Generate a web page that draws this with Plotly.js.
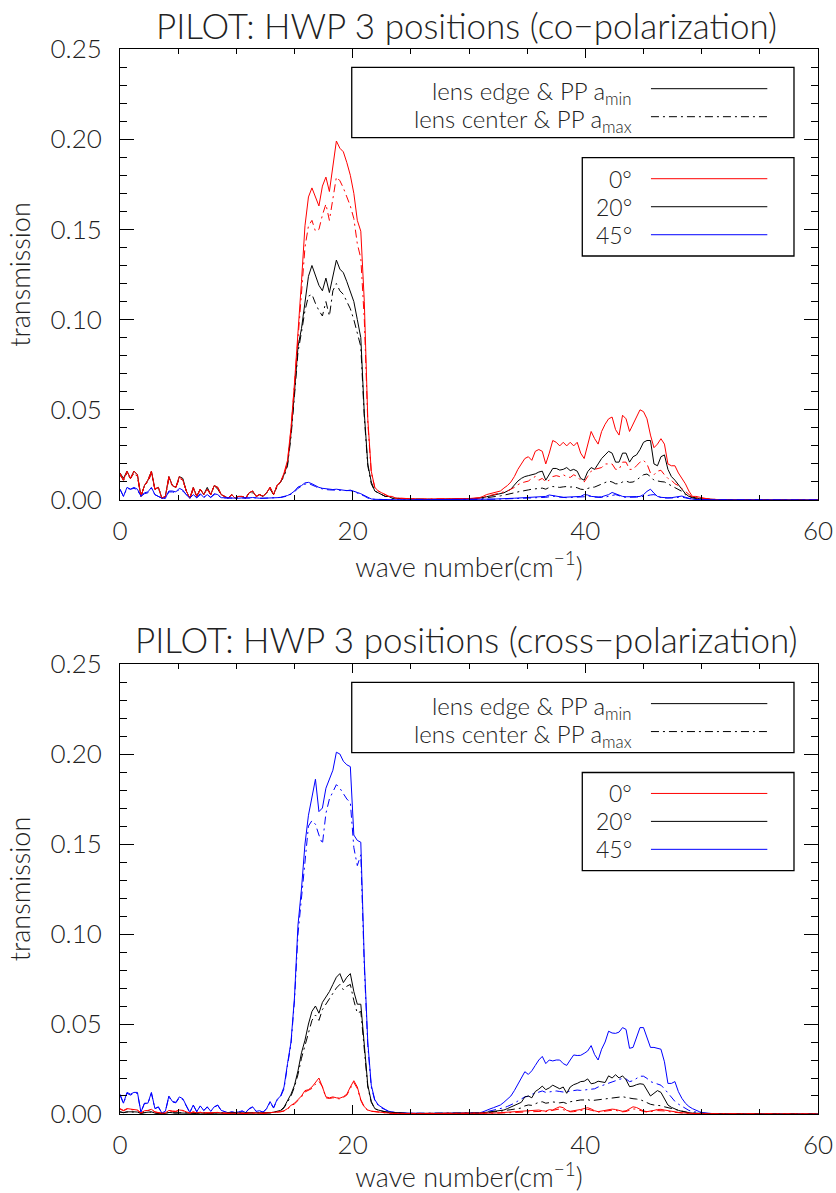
<!DOCTYPE html>
<html><head><meta charset="utf-8">
<script src="https://cdn.plot.ly/plotly-3.0.1.min.js"></script>
<style>html,body{margin:0;padding:0;background:#fff}#chart{width:836px;height:1193px}</style>
</head><body><div id="chart"></div>
<script>
// wave number grid (cm^-1)
const wavenumber = [
0,0.3,0.6,0.9,1.2,1.5,1.8,2.1,2.4,2.7,
3,3.3,3.6,3.9,4.2,4.5,4.8,5.1,5.4,5.7,
6,6.3,6.6,6.9,7.2,7.5,7.8,8.1,8.4,8.7,
9,9.3,9.6,9.9,10.2,10.5,10.8,11.1,11.4,11.7,
12,12.3,12.6,12.9,13.2,13.5,13.8,14.1,
14.4,14.7,15,15.3,15.6,15.9,16.2,16.5,16.8,17.1,
17.4,17.7,18,18.3,18.6,18.9,19.2,19.5,19.8,20.1,
20.4,20.7,21,21.3,21.6,21.9,22.2,22.5,22.8,23.1,
23.4,23.7,24,
24.3,24.6,24.9,25.2,25.5,25.8,26.1,26.4,26.7,27,
27.3,27.6,27.9,28.2,28.5,28.8,29.1,29.4,29.7,
30,30.3,30.6,30.9,31.2,31.5,31.8,32.1,32.4,32.7,
33,33.3,33.6,33.9,34.2,34.5,34.8,35.1,35.4,35.7,
36,36.3,36.6,36.9,37.2,37.5,37.8,38.1,38.4,38.7,
39,39.3,39.6,39.9,40.2,40.5,40.8,41.1,41.4,41.7,
42,42.3,42.6,42.9,43.2,43.5,43.8,44.1,44.4,44.7,
45,45.3,45.6,45.9,46.2,46.5,46.8,47.1,47.4,47.7,
48,48.3,48.6,48.9,49.2,49.5,49.8,50.1,50.4,50.7,
51,51.3,51.6,51.9,
60];

// ---------- co-polarization (top) ----------
const coRed0Edge = [
0.015,0.011,0.016,0.012,0.016,0.014,0.002,0.008,0.011,0.016,
0.006,0.007,0.001,0.002,0.013,0.008,0.007,0.013,0.011,0.005,
0.001,0.007,0.002,0.006,0.003,0.006,0.003,0.008,0.007,0.003,
0.002,0.001,0.003,0.001,0.002,0.002,0.001,0.004,0.005,0.002,
0.003,0.002,0.004,0.007,0.003,0.008,0.010,0.015,
0.022,0.040,0.065,0.092,0.121,0.152,0.168,0.173,0.168,0.163,
0.174,0.179,0.171,0.186,0.199,0.195,0.193,0.187,0.180,0.170,
0.155,0.149,0.110,0.045,0.016,0.007,0.005,0.004,0.003,0.002,
0.002,0.001,0.001,
0.001,0.001,0.0008,0.0007,0.0006,0.0005,0.0005,0.0005,0.0005,0.0005,
0.0005,0.0005,0.0005,0.0005,0.0005,0.0006,0.0006,0.0007,0.0008,
0.0008,0.001,0.0012,0.0013,0.002,0.003,0.0035,0.004,0.0045,0.005,
0.0066,0.008,0.010,0.013,0.017,0.020,0.023,0.024,0.022,0.027,
0.028,0.027,0.020,0.026,0.033,0.032,0.030,0.032,0.030,0.032,
0.030,0.032,0.026,0.023,0.031,0.038,0.034,0.031,0.038,0.042,
0.045,0.046,0.039,0.036,0.047,0.045,0.038,0.042,0.046,0.050,
0.049,0.045,0.036,0.029,0.031,0.034,0.031,0.020,0.019,0.019,
0.015,0.012,0.009,0.005,0.002,0.002,0.0015,0.001,0.0008,0.0005,
0.0004,0.0003,0.0002,0.0001,
0];
const coRed0Center = [
0.014,0.011,0.015,0.012,0.015,0.013,0.002,0.008,0.010,0.015,
0.006,0.007,0.001,0.002,0.012,0.008,0.007,0.012,0.011,0.005,
0.001,0.006,0.002,0.006,0.003,0.006,0.003,0.008,0.007,0.003,
0.002,0.001,0.003,0.001,0.002,0.002,0.001,0.004,0.005,0.002,
0.003,0.002,0.004,0.007,0.003,0.008,0.010,0.014,
0.021,0.039,0.064,0.090,0.118,0.140,0.152,0.155,0.149,0.150,
0.158,0.164,0.155,0.168,0.179,0.177,0.173,0.168,0.163,0.156,
0.142,0.134,0.100,0.043,0.015,0.007,0.005,0.004,0.003,0.002,
0.002,0.001,0.001,
0.001,0.0009,0.0008,0.0007,0.0006,0.0005,0.0005,0.0005,0.0004,0.0004,
0.0004,0.0004,0.0004,0.0004,0.0004,0.0005,0.0005,0.0005,0.0006,
0.0006,0.0008,0.001,0.001,0.0015,0.002,0.0025,0.003,0.0035,0.004,
0.0045,0.005,0.006,0.007,0.0085,0.0095,0.010,0.0105,0.012,0.013,
0.011,0.012,0.010,0.011,0.013,0.0135,0.013,0.014,0.013,0.0125,
0.014,0.013,0.011,0.010,0.013,0.016,0.017,0.0175,0.018,0.020,
0.020,0.020,0.017,0.017,0.021,0.021,0.017,0.017,0.019,0.021,
0.022,0.020,0.015,0.014,0.016,0.0165,0.014,0.012,0.011,0.009,
0.008,0.0065,0.005,0.003,0.0015,0.0012,0.001,0.0008,0.0006,0.0004,
0.0003,0.0002,0.0001,0.0001,
0];
const coBlack20Edge = [
0.015,0.012,0.016,0.012,0.016,0.014,0.002,0.008,0.011,0.016,
0.006,0.007,0.001,0.002,0.013,0.008,0.007,0.013,0.012,0.005,
0.001,0.007,0.002,0.006,0.003,0.007,0.003,0.008,0.007,0.003,
0.002,0.001,0.003,0.001,0.002,0.002,0.001,0.004,0.005,0.002,
0.003,0.002,0.004,0.007,0.003,0.008,0.010,0.014,
0.020,0.037,0.060,0.085,0.095,0.110,0.124,0.130,0.124,0.119,
0.116,0.123,0.115,0.125,0.133,0.128,0.126,0.121,0.116,0.110,
0.100,0.090,0.048,0.020,0.010,0.005,0.004,0.003,0.002,0.002,
0.001,0.001,0.0008,
0.0007,0.0006,0.0005,0.0005,0.0004,0.0004,0.0004,0.0004,0.0004,0.0004,
0.0004,0.0004,0.0004,0.0004,0.0004,0.0004,0.0004,0.0005,0.0005,
0.0005,0.0007,0.0009,0.001,0.0014,0.0018,0.0023,0.0028,0.0032,0.0037,
0.004,0.005,0.006,0.0083,0.0105,0.012,0.013,0.0135,0.014,0.0145,
0.0155,0.016,0.011,0.014,0.0175,0.0175,0.0166,0.017,0.018,0.0163,
0.017,0.016,0.012,0.011,0.0157,0.018,0.017,0.020,0.023,0.025,
0.027,0.026,0.021,0.021,0.026,0.026,0.021,0.024,0.025,0.028,
0.032,0.033,0.033,0.020,0.019,0.024,0.025,0.017,0.013,0.011,
0.0083,0.006,0.0035,0.002,0.0015,0.001,0.0008,0.0006,0.0005,0.0004,
0.0003,0.0002,0.0001,0.0001,
0];
const coBlack20Center = [
0.014,0.011,0.015,0.012,0.015,0.013,0.002,0.008,0.010,0.015,
0.006,0.007,0.001,0.002,0.012,0.008,0.007,0.012,0.011,0.005,
0.001,0.006,0.002,0.006,0.003,0.006,0.003,0.008,0.006,0.003,
0.002,0.001,0.003,0.001,0.002,0.002,0.001,0.004,0.004,0.002,
0.003,0.002,0.004,0.006,0.003,0.007,0.010,0.013,
0.019,0.035,0.058,0.082,0.093,0.105,0.113,0.114,0.109,0.105,
0.102,0.110,0.102,0.116,0.120,0.116,0.114,0.110,0.106,0.100,
0.092,0.085,0.046,0.019,0.009,0.005,0.004,0.003,0.002,0.002,
0.001,0.001,0.0008,
0.0007,0.0006,0.0005,0.0005,0.0004,0.0004,0.0004,0.0004,0.0003,0.0003,
0.0003,0.0003,0.0003,0.0003,0.0003,0.0003,0.0003,0.0004,0.0004,
0.0004,0.0005,0.0006,0.0008,0.001,0.0012,0.0015,0.0018,0.002,0.0023,
0.0027,0.003,0.0035,0.004,0.0045,0.005,0.0055,0.0056,0.006,0.0062,
0.0065,0.0066,0.006,0.007,0.0075,0.0072,0.007,0.0073,0.0075,0.0072,
0.0073,0.0068,0.006,0.0058,0.0065,0.007,0.0072,0.008,0.009,0.010,
0.0105,0.010,0.009,0.009,0.010,0.0105,0.0098,0.010,0.011,0.0126,
0.014,0.0144,0.013,0.011,0.0105,0.0102,0.010,0.009,0.008,0.007,
0.006,0.0048,0.003,0.002,0.0012,0.0008,0.0006,0.0005,0.0004,0.0003,
0.0002,0.0002,0.0001,0.0001,
0];
const coBlue45Edge = [
0.006,0.002,0.007,0.006,0.007,0.006,0.002,0.004,0.0045,0.007,
0.003,0.002,0.001,0.001,0.005,0.005,0.0045,0.0065,0.0055,0.003,
0.001,0.003,0.0013,0.0035,0.0015,0.003,0.0015,0.0035,0.003,0.0013,
0.0012,0.001,0.0012,0.001,0.001,0.0012,0.001,0.0012,0.0014,0.001,
0.001,0.001,0.001,0.0012,0.0012,0.0013,0.0015,0.002,
0.0025,0.0035,0.005,0.0072,0.008,0.0095,0.0098,0.009,0.008,0.007,
0.0065,0.0062,0.006,0.0058,0.006,0.0056,0.0055,0.0052,0.0055,0.005,
0.0042,0.0035,0.0025,0.0012,0.0006,0.0004,0.0003,0.0002,0.0002,0.0001,
0.0001,0.0001,0.0001,
0.0001,0.0001,0.0001,0.0001,0.0001,0.0001,0.0001,0.0001,0.0001,0.0001,
0.0001,0.0001,0.0001,0.0001,0.0001,0.0001,0.0001,0.0001,0.0002,
0.0002,0.0002,0.0003,0.0003,0.0004,0.0004,0.0005,0.0005,0.0006,0.0006,
0.0007,0.0008,0.0009,0.001,0.0011,0.0012,0.0013,0.0014,0.0013,0.0015,
0.0016,0.0017,0.002,0.0028,0.0025,0.0018,0.0016,0.0015,0.0016,0.0017,
0.0018,0.0017,0.002,0.003,0.0028,0.002,0.0017,0.0017,0.0018,0.0022,
0.003,0.0042,0.0035,0.0025,0.002,0.0018,0.0017,0.0018,0.0019,0.002,
0.003,0.0048,0.006,0.0038,0.002,0.0015,0.0012,0.0012,0.0013,0.0015,
0.0018,0.0022,0.0015,0.0008,0.0005,0.0003,0.0002,0.0002,0.0001,0.0001,
0.0001,0.0001,0.0001,0.0001,
0];
const coBlue45Center = [
0.006,0.002,0.0065,0.006,0.0065,0.0055,0.002,0.0035,0.004,0.0065,
0.003,0.002,0.001,0.001,0.0045,0.0045,0.004,0.006,0.005,0.003,
0.001,0.003,0.0012,0.003,0.0014,0.0028,0.0014,0.003,0.0028,0.0012,
0.0011,0.001,0.0011,0.001,0.001,0.0011,0.001,0.0011,0.0013,0.001,
0.001,0.001,0.001,0.0011,0.0011,0.0012,0.0014,0.0018,
0.0022,0.0032,0.0045,0.0065,0.0075,0.0088,0.0092,0.0085,0.0075,0.0066,
0.006,0.0058,0.0056,0.0055,0.0057,0.0053,0.0052,0.005,0.0052,0.0047,
0.004,0.0032,0.0022,0.0011,0.0005,0.0004,0.0003,0.0002,0.0002,0.0001,
0.0001,0.0001,0.0001,
0.0001,0.0001,0.0001,0.0001,0.0001,0.0001,0.0001,0.0001,0.0001,0.0001,
0.0001,0.0001,0.0001,0.0001,0.0001,0.0001,0.0001,0.0001,0.0001,
0.0001,0.0002,0.0002,0.0002,0.0003,0.0003,0.0004,0.0004,0.0005,0.0005,
0.0006,0.0006,0.0007,0.0008,0.0009,0.001,0.001,0.0011,0.0011,0.0012,
0.0013,0.0014,0.0015,0.0018,0.002,0.0022,0.0016,0.0013,0.0013,0.0014,
0.0014,0.0014,0.0015,0.0018,0.0021,0.0022,0.0016,0.0014,0.0014,0.0016,
0.002,0.0026,0.003,0.0024,0.0017,0.0015,0.0014,0.0015,0.0016,0.0017,
0.0019,0.0024,0.0028,0.003,0.0022,0.0014,0.0011,0.001,0.001,0.0012,
0.0015,0.0016,0.0012,0.0007,0.0004,0.0003,0.0002,0.0002,0.0001,0.0001,
0.0001,0.0001,0.0001,0.0001,
0];

// ---------- cross-polarization (bottom) ----------
const crossRed0Edge = [
0.003,0.002,0.003,0.0028,0.0025,0.0022,0.0006,0.0018,0.002,0.0026,
0.0012,0.0008,0.0004,0.0006,0.002,0.0016,0.0015,0.0022,0.002,0.0012,
0.0005,0.0012,0.0006,0.001,0.0005,0.0008,0.0005,0.0008,0.0009,0.0005,
0.0004,0.0003,0.0004,0.0003,0.0004,0.0005,0.0003,0.0006,0.0007,0.0004,
0.0005,0.0004,0.0006,0.0008,0.0007,0.001,0.0013,0.0018,
0.003,0.0048,0.006,0.008,0.010,0.013,0.0135,0.015,0.0175,0.020,
0.015,0.0095,0.009,0.0095,0.009,0.0088,0.0096,0.011,0.015,0.0185,
0.015,0.008,0.004,0.0022,0.0016,0.0013,0.001,0.0008,0.0006,0.0005,
0.0004,0.0003,0.0003,
0.0003,0.0002,0.0002,0.0002,0.0002,0.0002,0.0002,0.0001,0.0001,0.0001,
0.0001,0.0001,0.0001,0.0001,0.0001,0.0001,0.0001,0.0001,0.0001,
0.0001,0.0001,0.0002,0.0002,0.0003,0.0003,0.0004,0.0005,0.0006,0.0007,
0.0008,0.001,0.0011,0.0012,0.0013,0.0015,0.0016,0.0015,0.0017,0.002,
0.0022,0.0018,0.0016,0.0024,0.0022,0.0032,0.004,0.0035,0.002,0.0015,
0.0017,0.0022,0.0025,0.003,0.0035,0.0028,0.0018,0.0013,0.0016,0.002,
0.0024,0.0027,0.0025,0.002,0.0015,0.0018,0.0028,0.004,0.0036,0.0026,
0.0017,0.0013,0.0015,0.002,0.0025,0.0026,0.0022,0.0018,0.0015,0.0012,
0.0009,0.0007,0.0005,0.0004,0.0003,0.0002,0.0002,0.0001,0.0001,0.0001,
0.0001,0.0001,0.0001,0.0001,
0];
const crossRed0Center = [
0.0027,0.0018,0.0027,0.0025,0.0023,0.002,0.0005,0.0016,0.0018,0.0024,
0.0011,0.0007,0.0004,0.0005,0.0018,0.0015,0.0014,0.002,0.0018,0.0011,
0.0005,0.0011,0.0005,0.0009,0.0005,0.0007,0.0005,0.0007,0.0008,0.0005,
0.0004,0.0003,0.0004,0.0003,0.0004,0.0005,0.0003,0.0005,0.0006,0.0004,
0.0005,0.0004,0.0005,0.0007,0.0006,0.0009,0.0012,0.0016,
0.0027,0.0044,0.0056,0.0075,0.0095,0.0122,0.013,0.0142,0.0165,0.0182,
0.0152,0.009,0.0086,0.009,0.0086,0.0084,0.0092,0.0105,0.0142,0.0175,
0.0142,0.0075,0.0037,0.002,0.0015,0.0012,0.0009,0.0007,0.0005,0.0004,
0.0003,0.0003,0.0002,
0.0002,0.0002,0.0002,0.0002,0.0002,0.0001,0.0001,0.0001,0.0001,0.0001,
0.0001,0.0001,0.0001,0.0001,0.0001,0.0001,0.0001,0.0001,0.0001,
0.0001,0.0001,0.0001,0.0002,0.0002,0.0003,0.0003,0.0004,0.0005,0.0005,
0.0006,0.0007,0.0008,0.0009,0.001,0.0011,0.0012,0.0012,0.0013,0.0015,
0.0016,0.0015,0.0013,0.0016,0.002,0.0025,0.0028,0.0024,0.0016,0.0012,
0.0013,0.0016,0.002,0.0024,0.0026,0.0021,0.0014,0.0011,0.0013,0.0016,
0.0019,0.0021,0.002,0.0016,0.0012,0.0014,0.002,0.0028,0.0027,0.002,
0.0014,0.0011,0.0012,0.0016,0.0019,0.002,0.0017,0.0014,0.0011,0.0009,
0.0007,0.0005,0.0004,0.0003,0.0002,0.0002,0.0001,0.0001,0.0001,0.0001,
0.0001,0.0001,0.0001,0.0001,
0];
const crossBlack20Edge = [
0.0012,0.0008,0.0012,0.001,0.0012,0.0011,0.0004,0.0008,0.0009,0.0012,
0.0005,0.0006,0.0003,0.0003,0.0009,0.0007,0.0006,0.0008,0.0008,0.0005,
0.0003,0.0005,0.0003,0.0005,0.0003,0.0004,0.0003,0.0005,0.0005,0.0003,
0.0003,0.0003,0.0003,0.0003,0.0003,0.0004,0.0003,0.0004,0.0005,0.0004,
0.0005,0.0005,0.0006,0.0007,0.001,0.0015,0.002,0.0038,
0.007,0.011,0.016,0.024,0.034,0.041,0.050,0.057,0.060,0.056,
0.062,0.065,0.068,0.072,0.076,0.078,0.073,0.076,0.078,0.068,
0.061,0.061,0.038,0.016,0.007,0.003,0.0022,0.0016,0.0012,0.001,
0.0008,0.0006,0.0005,
0.0004,0.0004,0.0003,0.0003,0.0003,0.0002,0.0002,0.0002,0.0002,0.0002,
0.0002,0.0002,0.0002,0.0002,0.0002,0.0002,0.0002,0.0002,0.0002,
0.0002,0.0003,0.0004,0.0005,0.0007,0.0009,0.0011,0.0013,0.0016,0.0019,
0.0022,0.003,0.0038,0.0047,0.0055,0.0065,0.0095,0.010,0.009,0.0125,
0.0138,0.0155,0.0135,0.0145,0.016,0.0152,0.014,0.015,0.0115,0.015,
0.0163,0.017,0.018,0.0182,0.0195,0.0168,0.0172,0.0182,0.018,0.0175,
0.0212,0.020,0.0218,0.020,0.0212,0.019,0.0152,0.0155,0.0163,0.0168,
0.0165,0.0135,0.010,0.0115,0.013,0.012,0.0085,0.005,0.0037,0.0028,
0.002,0.0015,0.001,0.0007,0.0005,0.0004,0.0003,0.0002,0.0002,0.0001,
0.0001,0.0001,0.0001,0.0001,
0];
const crossBlack20Center = [
0.0011,0.0007,0.0011,0.0009,0.0011,0.001,0.0004,0.0007,0.0008,0.0011,
0.0005,0.0005,0.0003,0.0003,0.0008,0.0006,0.0005,0.0007,0.0007,0.0005,
0.0003,0.0005,0.0003,0.0004,0.0003,0.0004,0.0003,0.0004,0.0004,0.0003,
0.0003,0.0003,0.0003,0.0003,0.0003,0.0003,0.0003,0.0004,0.0004,0.0003,
0.0004,0.0004,0.0005,0.0006,0.0009,0.0013,0.0018,0.0034,
0.0065,0.010,0.015,0.022,0.031,0.038,0.046,0.052,0.055,0.052,
0.058,0.061,0.064,0.067,0.070,0.072,0.069,0.071,0.072,0.063,
0.056,0.057,0.036,0.015,0.0065,0.003,0.002,0.0015,0.0011,0.0009,
0.0007,0.0005,0.0004,
0.0004,0.0003,0.0003,0.0003,0.0002,0.0002,0.0002,0.0002,0.0002,0.0002,
0.0002,0.0002,0.0002,0.0002,0.0002,0.0002,0.0002,0.0002,0.0002,
0.0001,0.0002,0.0003,0.0004,0.0005,0.0006,0.0008,0.001,0.0012,0.0014,
0.0016,0.002,0.0024,0.0027,0.003,0.0033,0.0045,0.005,0.0048,0.0058,
0.0065,0.0068,0.006,0.0063,0.0067,0.0065,0.0062,0.0065,0.0058,0.0068,
0.0072,0.0075,0.0078,0.0078,0.008,0.0074,0.0076,0.008,0.0082,0.0084,
0.0088,0.0087,0.009,0.0093,0.0096,0.0092,0.0087,0.0085,0.0083,0.008,
0.0072,0.0062,0.0054,0.005,0.005,0.0046,0.004,0.0035,0.003,0.0025,
0.002,0.0015,0.001,0.0007,0.0005,0.0004,0.0003,0.0002,0.0002,0.0001,
0.0001,0.0001,0.0001,0.0001,
0];
const crossBlue45Edge = [
0.011,0.006,0.012,0.011,0.012,0.012,0.001,0.006,0.006,0.012,
0.003,0.004,0.0005,0.0015,0.010,0.007,0.0065,0.0095,0.0085,0.005,
0.0008,0.005,0.0013,0.0045,0.002,0.004,0.0015,0.004,0.005,0.002,
0.0012,0.0007,0.0012,0.0008,0.0012,0.0017,0.0008,0.003,0.004,0.0015,
0.0018,0.001,0.003,0.0069,0.0035,0.008,0.010,0.015,
0.028,0.040,0.065,0.105,0.125,0.150,0.166,0.176,0.186,0.168,
0.170,0.181,0.186,0.191,0.201,0.200,0.196,0.194,0.193,0.155,
0.152,0.151,0.085,0.040,0.016,0.008,0.005,0.0035,0.0025,0.0015,
0.001,0.0008,0.0006,
0.0005,0.0004,0.0004,0.0003,0.0003,0.0003,0.0003,0.0003,0.0003,0.0003,
0.0003,0.0003,0.0003,0.0003,0.0003,0.0003,0.0003,0.0004,0.0004,
0.0004,0.0005,0.0006,0.0006,0.0012,0.0022,0.0028,0.0035,0.0043,0.005,
0.0065,0.0085,0.010,0.013,0.0165,0.020,0.0235,0.022,0.024,0.027,
0.030,0.032,0.028,0.030,0.0295,0.030,0.030,0.028,0.027,0.030,
0.0328,0.0325,0.0326,0.0337,0.035,0.038,0.033,0.030,0.036,0.040,
0.046,0.045,0.0448,0.0455,0.048,0.047,0.0365,0.037,0.043,0.048,
0.048,0.042,0.037,0.037,0.0365,0.036,0.029,0.017,0.017,0.018,
0.0124,0.0087,0.006,0.0042,0.003,0.002,0.0013,0.0007,0.0004,0.0003,
0.0002,0.0001,0.0001,0.0001,
0];
const crossBlue45Center = [
0.0105,0.0058,0.0115,0.0105,0.0115,0.0115,0.001,0.0058,0.0058,0.0115,
0.003,0.0038,0.0005,0.0014,0.0095,0.0067,0.0062,0.009,0.008,0.0048,
0.0008,0.0048,0.0012,0.0043,0.0019,0.0038,0.0014,0.0038,0.0048,0.0019,
0.0011,0.0007,0.0011,0.0008,0.0011,0.0016,0.0008,0.0028,0.0038,0.0014,
0.0017,0.001,0.0028,0.0065,0.0033,0.0076,0.0095,0.014,
0.027,0.039,0.063,0.100,0.120,0.142,0.160,0.163,0.161,0.155,
0.150,0.167,0.175,0.179,0.183,0.181,0.178,0.175,0.173,0.148,
0.138,0.144,0.082,0.038,0.015,0.0075,0.0048,0.0033,0.0024,0.0014,
0.001,0.0007,0.0005,
0.0005,0.0004,0.0004,0.0003,0.0003,0.0003,0.0003,0.0003,0.0003,0.0003,
0.0003,0.0003,0.0003,0.0003,0.0003,0.0003,0.0003,0.0003,0.0003,
0.0003,0.0004,0.0005,0.0005,0.0008,0.0012,0.0016,0.002,0.0025,0.003,
0.0035,0.0042,0.005,0.006,0.0072,0.0085,0.0095,0.0098,0.011,0.0115,
0.012,0.0128,0.012,0.0122,0.0126,0.0128,0.0125,0.0122,0.0124,0.0128,
0.013,0.0133,0.0131,0.0133,0.0136,0.0139,0.014,0.015,0.0158,0.0165,
0.017,0.0178,0.0185,0.019,0.0198,0.0195,0.018,0.0185,0.0198,0.021,
0.021,0.0198,0.018,0.0172,0.0168,0.016,0.014,0.0118,0.009,0.007,
0.0055,0.0042,0.003,0.002,0.0014,0.001,0.0007,0.0005,0.0003,0.0002,
0.0002,0.0001,0.0001,0.0001,
0];

// legend labels
const styleLabels = ['lens edge & PP a<sub>min</sub>', 'lens center & PP a<sub>max</sub>'];
const angleLabels = ['0°', '20°', '45°'];
const titles = ['PILOT: HWP 3 positions (co−polarization)', 'PILOT: HWP 3 positions (cross−polarization)'];

const FONT = 'Lato, "DejaVu Sans", sans-serif';
const RED = '#ff0000', BLACK = '#000000', BLUE = '#0000ff';
const DASHDOT = '8px,4px,2px,4px';

function tr(y, color, dash, xa, ya) {
  return {x: wavenumber, y: y, type: 'scatter', mode: 'lines', xaxis: xa, yaxis: ya,
    line: {color: color, width: 1, dash: dash}, showlegend: false, hoverinfo: 'skip'};
}
const traces = [
  tr(coBlack20Edge, BLACK, 'solid', 'x', 'y'),
  tr(coBlack20Center, BLACK, DASHDOT, 'x', 'y'),
  tr(coRed0Edge, RED, 'solid', 'x', 'y'),
  tr(coRed0Center, RED, DASHDOT, 'x', 'y'),
  tr(coBlue45Edge, BLUE, 'solid', 'x', 'y'),
  tr(coBlue45Center, BLUE, DASHDOT, 'x', 'y'),
  tr(crossBlue45Edge, BLUE, 'solid', 'x2', 'y2'),
  tr(crossBlue45Center, BLUE, DASHDOT, 'x2', 'y2'),
  tr(crossBlack20Edge, BLACK, 'solid', 'x2', 'y2'),
  tr(crossBlack20Center, BLACK, DASHDOT, 'x2', 'y2'),
  tr(crossRed0Edge, RED, 'solid', 'x2', 'y2'),
  tr(crossRed0Center, RED, DASHDOT, 'x2', 'y2')
];

const tickFont = {family: FONT, size: 26, color: '#222', weight: 300};
const titleFont = {family: FONT, size: 27, color: '#222', weight: 300};

function xAxis(anchor) {
  return {anchor: anchor, domain: [0, 1], range: [0, 60], tick0: 0, dtick: 20,
    showline: true, linecolor: '#000', linewidth: 1, mirror: 'ticks',
    ticks: 'inside', ticklen: 9, tickwidth: 1, tickcolor: '#000',
    minor: {ticks: 'inside', dtick: 5, ticklen: 5, tickwidth: 1, tickcolor: '#000', showgrid: false},
    showgrid: false, zeroline: false, tickfont: tickFont, ticklabelstandoff: 8,
    title: {text: 'wave number(cm<sup>−1</sup>)', font: titleFont, standoff: 6}, automargin: false};
}
function yAxis(anchor, dom) {
  return {anchor: anchor, domain: dom, range: [0, 0.25], tick0: 0, dtick: 0.05, tickformat: '.2f',
    showline: true, linecolor: '#000', linewidth: 1, mirror: 'ticks',
    ticks: 'inside', ticklen: 14, tickwidth: 1, tickcolor: '#000',
    minor: {ticks: 'inside', dtick: 0.01, ticklen: 7, tickwidth: 1, tickcolor: '#000', showgrid: false},
    showgrid: false, zeroline: false, tickfont: tickFont, ticklabelstandoff: 12,
    title: {text: 'transmission', font: titleFont, standoff: 12}, automargin: false};
}

const shapes = [], annotations = [];
function addLegends(xr, yr) {
  const xd = xr + ' domain', yd = yr + ' domain';
  // box 1: line styles
  shapes.push({type: 'rect', xref: xd, yref: yd, x0: 0.332, x1: 0.9656, y0: 0.8033, y1: 0.9594,
    line: {color: '#000', width: 1.3}, fillcolor: 'rgba(0,0,0,0)'});
  const styleY = [0.912, 0.8499];
  const styleDash = ['solid', DASHDOT];
  for (let i = 0; i < 2; i++) {
    shapes.push({type: 'line', xref: xd, yref: yd, x0: 0.7607, x1: 0.9274, y0: styleY[i], y1: styleY[i],
      line: {color: '#000', width: 1, dash: styleDash[i]}});
    annotations.push({xref: xd, yref: yd, x: 0.737, y: styleY[i], xanchor: 'right', yanchor: 'middle',
      text: styleLabels[i], showarrow: false, font: {family: FONT, size: 24, color: '#222', weight: 300}, yshift: -4});
  }
  // box 2: angles
  shapes.push({type: 'rect', xref: xd, yref: yd, x0: 0.6623, x1: 0.9656, y0: 0.541, y1: 0.759,
    line: {color: '#000', width: 1.3}, fillcolor: 'rgba(0,0,0,0)'});
  const angY = [0.7124, 0.6503, 0.5882];
  const angC = [RED, BLACK, BLUE];
  for (let i = 0; i < 3; i++) {
    shapes.push({type: 'line', xref: xd, yref: yd, x0: 0.7607, x1: 0.9274, y0: angY[i], y1: angY[i],
      line: {color: angC[i], width: 1}});
    annotations.push({xref: xd, yref: yd, x: 0.737, y: angY[i], xanchor: 'right', yanchor: 'middle',
      text: angleLabels[i], showarrow: false, font: {family: FONT, size: 23, color: '#222', weight: 300}});
  }
}
addLegends('x', 'y');
addLegends('x2', 'y2');
annotations.push({xref: 'paper', yref: 'paper', x: 0.497, y: 1.0225, xanchor: 'center', yanchor: 'middle',
  text: titles[0], showarrow: false, font: {family: FONT, size: 35, color: '#222', weight: 300}});
annotations.push({xref: 'paper', yref: 'paper', x: 0.497, y: 0.446, xanchor: 'center', yanchor: 'middle',
  text: titles[1], showarrow: false, font: {family: FONT, size: 35, color: '#222', weight: 300}});

const layout = {
  width: 836, height: 1193,
  margin: {l: 120, r: 18, t: 49, b: 79, pad: 0},
  paper_bgcolor: '#fff', plot_bgcolor: '#fff',
  showlegend: false,
  xaxis: xAxis('y'),
  yaxis: yAxis('x', [0.5765, 1]),
  xaxis2: xAxis('y2'),
  yaxis2: yAxis('x2', [0, 0.4225]),
  shapes: shapes,
  annotations: annotations
};
Plotly.newPlot('chart', traces, layout, {displayModeBar: false, staticPlot: true});
</script></body></html>
